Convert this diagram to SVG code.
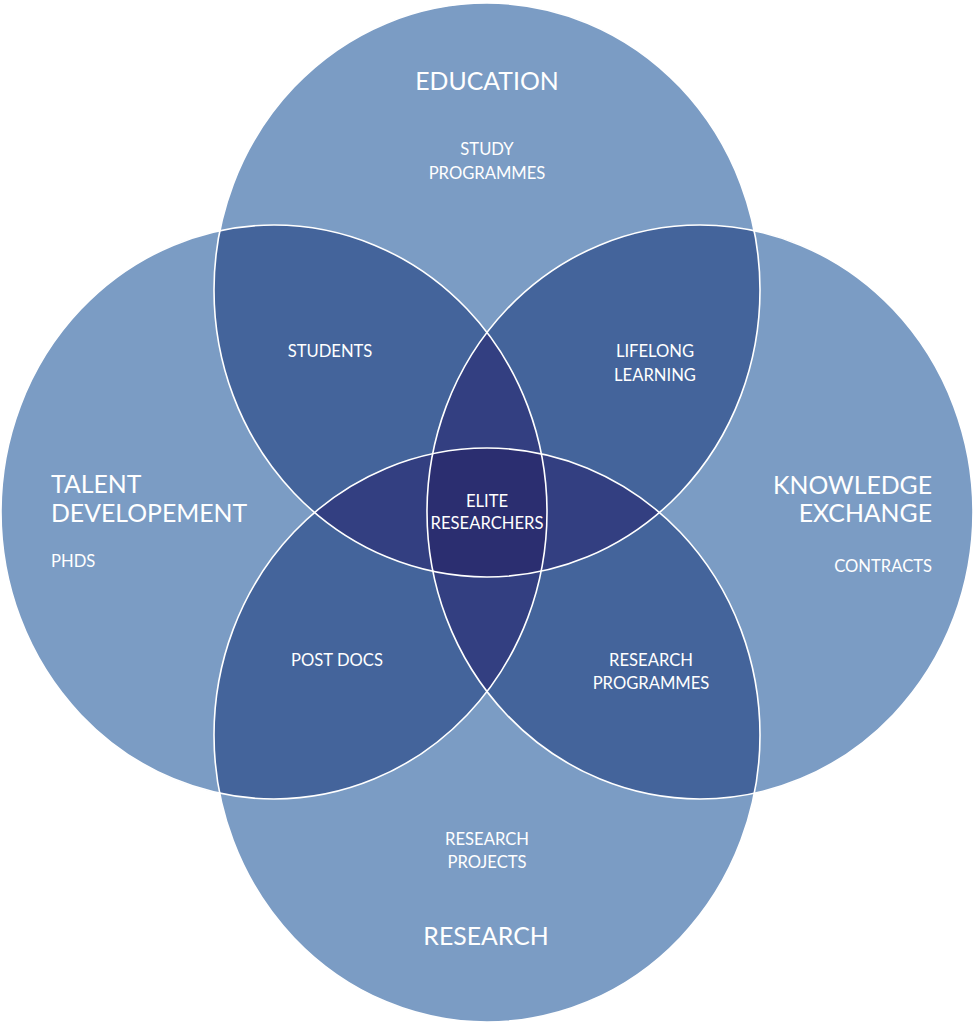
<svg xmlns="http://www.w3.org/2000/svg" xmlns:xlink="http://www.w3.org/1999/xlink" width="975" height="1026" viewBox="0 0 975 1026">
<style>
.l1{fill:#7b9cc4}
.l2{fill:#44649b}
.l3{fill:#333f81}
.l4{fill:#2b2e70}
.edge{fill:none;stroke:#ffffff;stroke-width:1.6}
text{font-family:Lato,"Noto Sans","Liberation Sans",sans-serif;fill:#ffffff}
.big{font-size:24.8px}
.sm{font-size:16.6px}
.c{text-anchor:middle}
.r{text-anchor:end}
</style>
<defs>
<ellipse id="eT" cx="487" cy="290" rx="273" ry="287"/>
<ellipse id="eB" cx="487" cy="735" rx="273" ry="287"/>
<ellipse id="eL" cx="274" cy="512" rx="273" ry="287"/>
<ellipse id="eR" cx="700" cy="512" rx="273" ry="287"/>
<clipPath id="cT"><use xlink:href="#eT"/></clipPath>
<clipPath id="cB"><use xlink:href="#eB"/></clipPath>
<clipPath id="cL"><use xlink:href="#eL"/></clipPath>
<clipPath id="cR"><use xlink:href="#eR"/></clipPath>
</defs>
<g id="regions">
<use xlink:href="#eT" class="l1"/>
<use xlink:href="#eB" class="l1"/>
<use xlink:href="#eL" class="l1"/>
<use xlink:href="#eR" class="l1"/>
<g class="l2">
<g clip-path="url(#cT)"><use xlink:href="#eL"/><use xlink:href="#eR"/><use xlink:href="#eB"/></g>
<g clip-path="url(#cB)"><use xlink:href="#eL"/><use xlink:href="#eR"/></g>
<g clip-path="url(#cL)"><use xlink:href="#eR"/></g>
</g>
<g class="l3">
<g clip-path="url(#cT)"><g clip-path="url(#cL)"><use xlink:href="#eR"/><use xlink:href="#eB"/></g></g>
<g clip-path="url(#cB)"><g clip-path="url(#cL)"><use xlink:href="#eR"/></g></g>
<g clip-path="url(#cT)"><g clip-path="url(#cR)"><use xlink:href="#eB"/></g></g>
</g>
<g class="l4">
<g clip-path="url(#cT)"><g clip-path="url(#cL)"><g clip-path="url(#cR)"><use xlink:href="#eB"/></g></g></g>
</g>
</g>
<g id="connectors">
<use xlink:href="#eT" class="edge"/>
<use xlink:href="#eB" class="edge"/>
<use xlink:href="#eL" class="edge"/>
<use xlink:href="#eR" class="edge"/>
</g>
<g id="education">
<text class="big c" x="487" y="90">EDUCATION</text>
<text class="sm c" x="487" y="155">STUDY</text>
<text class="sm c" x="487" y="179">PROGRAMMES</text>
</g>
<g id="talent">
<text class="big" x="51" y="493">TALENT</text>
<text class="big" x="51" y="522">DEVELOPEMENT</text>
<text class="sm" x="51" y="567">PHDS</text>
</g>
<g id="knowledge">
<text class="big r" x="932" y="494">KNOWLEDGE</text>
<text class="big r" x="932" y="522">EXCHANGE</text>
<text class="sm r" x="932" y="572">CONTRACTS</text>
</g>
<g id="research">
<text class="sm c" x="487" y="845">RESEARCH</text>
<text class="sm c" x="487" y="868">PROJECTS</text>
<text class="big c" x="486" y="945">RESEARCH</text>
</g>
<g id="students"><text class="sm c" x="330" y="357">STUDENTS</text></g>
<g id="lifelong">
<text class="sm c" x="655" y="357">LIFELONG</text>
<text class="sm c" x="655" y="381">LEARNING</text>
</g>
<g id="postdocs"><text class="sm c" x="337" y="666">POST DOCS</text></g>
<g id="researchprog">
<text class="sm c" x="651" y="666">RESEARCH</text>
<text class="sm c" x="651" y="689">PROGRAMMES</text>
</g>
<g id="elite">
<text class="sm c" x="487" y="507">ELITE</text>
<text class="sm c" x="487" y="529">RESEARCHERS</text>
</g>
</svg>
